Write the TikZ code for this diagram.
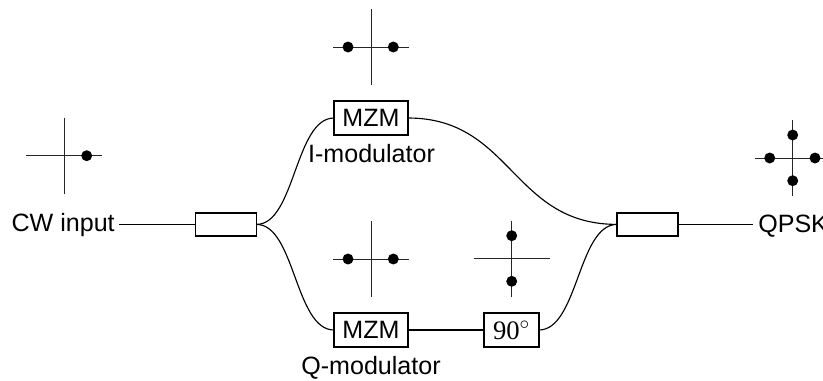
\documentclass[tikz,border=0pt]{standalone}
\usepackage{fontspec}
\setmainfont{Liberation Sans}
\newfontfamily\serifnum{Liberation Serif}
\tikzset{
 wire/.style={line width=0.85pt,black},
 axis/.style={line width=0.55pt,black!85},
 box/.style={draw,line width=1.1pt,fill=white,outer sep=0pt,inner sep=0pt},
 smallbox/.style={box,minimum width=45.75pt,minimum height=17.25pt},
 tallbox/.style={box,minimum height=25.5pt},
 lbl/.style={font=\fontsize{18.8}{20}\selectfont,inner sep=0pt},
 pt/.style={circle,fill=black,inner sep=0pt,minimum size=8.2pt}
}
\newcommand{\constcross}[3]{%
 \draw[axis] (#1-#3,#2) -- (#1+#3,#2);
 \draw[axis] (#1,#2-#3) -- (#1,#2+#3);}
\begin{document}
\begin{tikzpicture}[x=0.75pt,y=-0.75pt]
\useasboundingbox (0,0) rectangle (823,380);
% constellations
\constcross{64}{155.7}{38}
\constcross{371}{47}{38}
\constcross{371}{259}{38}
\constcross{511.7}{258.7}{38}
\constcross{792.7}{158}{38}
\node[pt] (a1) at (86.7,155.7) {};
\node[pt] (b1) at (348,47) {};
\node[pt] (b2) at (393.3,47) {};
\node[pt] (c1) at (348,259) {};
\node[pt] (c2) at (393.3,259) {};
\node[pt] (d1) at (511.7,235.7) {};
\node[pt] (d2) at (511.7,281.3) {};
\node[pt] (e1) at (769.7,158) {};
\node[pt] (e2) at (815,158) {};
\node[pt] (e3) at (792.7,135) {};
\node[pt] (e4) at (792.7,180.7) {};
% boxes
\node[smallbox] (split) at (226,224.4) {};
\node[smallbox] (comb) at (647.5,224.4) {};
\node[tallbox,lbl,minimum width=55.5pt] (mzmi) at (371,118) {MZM};
\node[tallbox,lbl,minimum width=55.5pt] (mzmq) at (371,330) {MZM};
\node[tallbox,minimum width=41pt,font=\serifnum\fontsize{20}{22}\selectfont] (ph) at (511.5,330) {90$^\circ$};
% labels
\node[lbl,anchor=base east] (cw) at (115,231) {CW input};
\node[lbl,anchor=base west] (qpsk) at (758,232) {QPSK};
\coordinate (cwend) at (119,224.4);
\coordinate (qend) at (753,224.4);
\node[lbl,anchor=base] (im) at (371.5,162) {I-modulator};
\node[lbl,anchor=base] (qm) at (371,374) {Q-modulator};
% connectors
\draw[wire] (cwend) -- (split.west);
\draw[wire] (comb.east) -- (qend);
\draw[wire] (mzmq.east) -- (ph.west);
\draw[wire] (split.east) .. controls (295,224.4) and (295,118) .. (mzmi.west);
\draw[wire] (split.east) .. controls (295,224.4) and (295,330) .. (mzmq.west);
\draw[wire] (mzmi.east) .. controls (512,118) and (512,224.4) .. (comb.west);
\draw[wire] (ph.east) .. controls (578,330) and (578,224.4) .. (comb.west);
\end{tikzpicture}
\end{document}
